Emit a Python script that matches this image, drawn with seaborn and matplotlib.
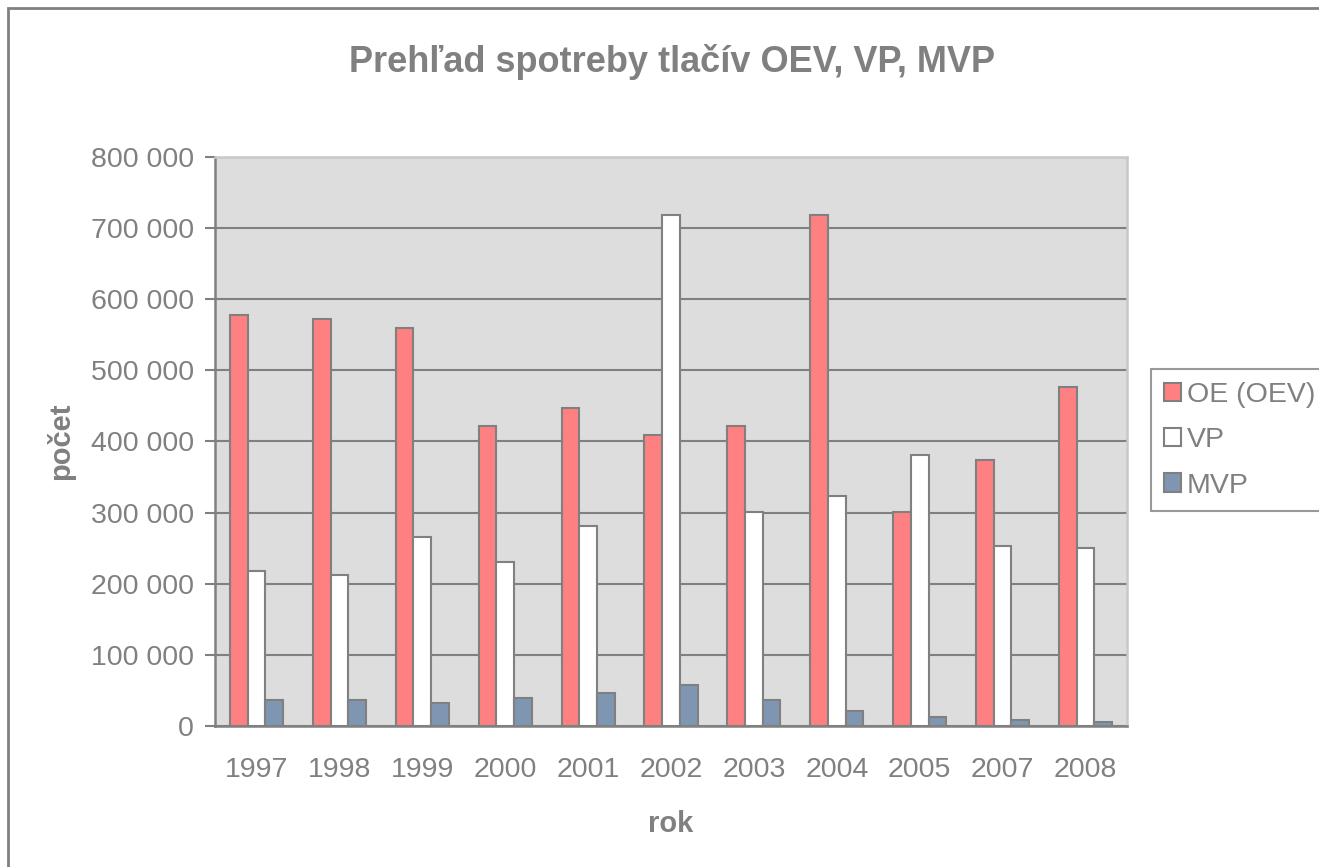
import pandas as pd
import numpy as np
import matplotlib
matplotlib.use('Agg')
import matplotlib.pyplot as plt
import matplotlib.ticker as mticker
from matplotlib.patches import Rectangle
import seaborn as sns

# Data
years = ['1997', '1998', '1999', '2000', '2001', '2002', '2003', '2004', '2005', '2007', '2008']
oe_oev = [578000, 572000, 559000, 422000, 447000, 409000, 422000, 718000, 301000, 374000, 476000]
vp = [218000, 212000, 266000, 231000, 281000, 718000, 301000, 324000, 381000, 253000, 250000]
mvp = [36500, 36500, 33000, 40000, 46000, 57000, 36500, 21000, 12000, 8000, 5000]
series_names = ['OE (OEV)', 'VP', 'MVP']
colors = ['#FF8080', '#FFFFFF', '#7F96B2']

GRAY = '#808080'

sns.set_style("white")
plt.rcParams['font.family'] = ['Liberation Sans', 'DejaVu Sans']

df = pd.DataFrame({
    'rok': years * 3,
    'pocet': oe_oev + vp + mvp,
    'typ': [s for s in series_names for _ in years],
})

fig = plt.figure(figsize=(13.19, 8.67), dpi=100)
ax = fig.add_axes([215 / 1319, 1 - 726 / 867, (1127 - 215) / 1319, (726 - 157) / 867])
ax.set_facecolor('#DDDDDD')

sns.barplot(data=df, x='rok', y='pocet', hue='typ', hue_order=series_names,
            palette=colors, saturation=1, width=0.64, edgecolor=GRAY,
            linewidth=1.5, ax=ax, zorder=3)

ax.set_ylim(0, 800000)
ax.set_xlim(-0.5, len(years) - 0.5)
ax.yaxis.set_major_locator(mticker.MultipleLocator(100000))
ax.yaxis.set_major_formatter(mticker.FuncFormatter(lambda v, p: f"{int(v):,}".replace(",", " ")))
ax.yaxis.grid(True, color=GRAY, linewidth=1.5, zorder=0)
ax.set_axisbelow(True)

# x: labels centred, tick marks between categories
ax.set_xticks(np.arange(-0.5, len(years), 1.0), minor=True)
ax.tick_params(axis='x', which='major', length=0, pad=22, labelsize=20.5, labelcolor=GRAY)
ax.tick_params(axis='x', which='minor', length=7, width=1.5, color=GRAY, direction='out')
ax.tick_params(axis='y', which='major', length=7, width=1.5, color=GRAY, direction='out',
               pad=8, labelsize=20.5, labelcolor=GRAY)
ax.tick_params(left=True, bottom=True)

for side in ['left', 'bottom']:
    ax.spines[side].set_color(GRAY)
    ax.spines[side].set_linewidth(1.8)
for side in ['top', 'right']:
    ax.spines[side].set_color('#C8C8C8')
    ax.spines[side].set_linewidth(1.8)

ax.set_xlabel('rok', fontsize=21, fontweight='bold', color=GRAY)
ax.set_ylabel('počet', fontsize=21, fontweight='bold', color=GRAY)
ax.xaxis.set_label_coords(0.5, -0.148)
ax.yaxis.set_label_coords(-0.153, 0.5)

fig.text(672 / 1319, 1 - 62 / 867, 'Prehľad spotreby tlačív OEV, VP, MVP',
         ha='center', va='center', fontsize=26, fontweight='bold', color=GRAY)

# legend, partly cut by the right edge like the reference
handles, labels = ax.get_legend_handles_labels()
if ax.legend_:
    ax.legend_.remove()
leg = fig.legend(handles, labels, loc='upper left',
                 bbox_to_anchor=(1151 / 1319, 1 - 369 / 867),
                 bbox_transform=fig.transFigure, fontsize=20.5, frameon=True,
                 fancybox=False, edgecolor=GRAY, borderpad=0.45,
                 labelspacing=0.68, handlelength=0.6, handleheight=0.6,
                 handletextpad=0.2, borderaxespad=0)
leg.get_frame().set_linewidth(1.5)
for t in leg.get_texts():
    t.set_color(GRAY)

# outer chart frame
fig.patches.append(Rectangle((8 / 1319, -0.2), 2.0, 1.2 - 8 / 867,
                             transform=fig.transFigure, fill=False,
                             edgecolor=GRAY, linewidth=2))

fig.savefig('out.png', dpi=100)
